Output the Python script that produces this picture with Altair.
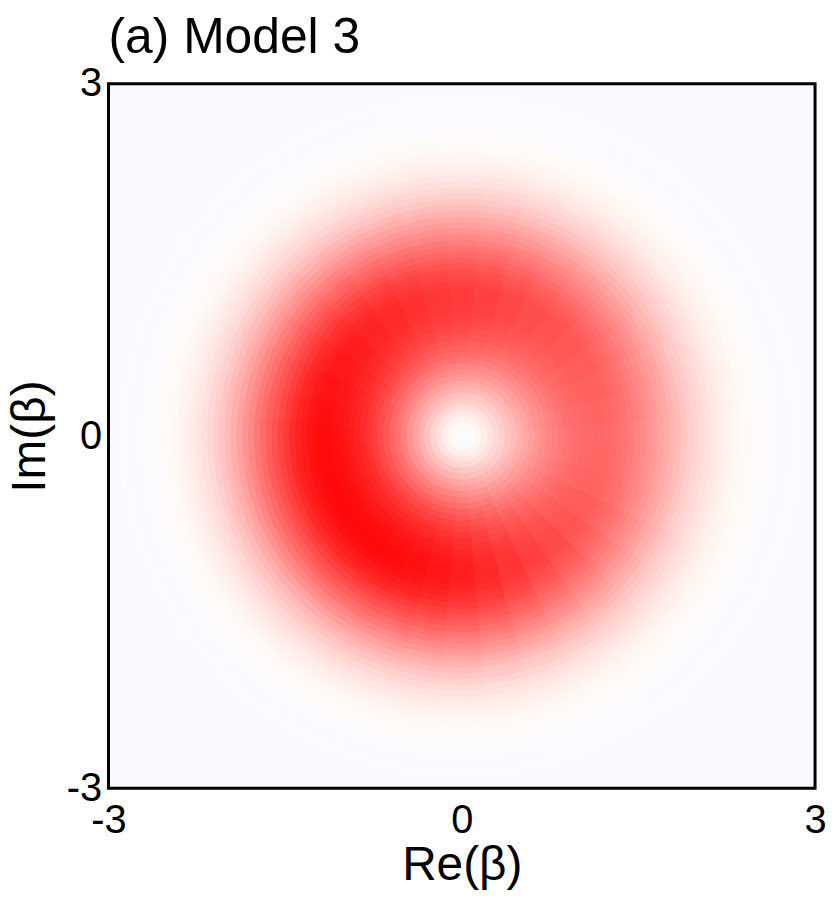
import math
import altair as alt
import pandas as pd

# Radial profile of the ring (read along the strongest direction), radius step 0.05
radius_centers = [round(0.05 * k, 2) for k in range(59)]
radial_profile = [
    0.00, 0.01, 0.04, 0.08, 0.13, 0.19, 0.26, 0.32, 0.39, 0.45,
    0.52, 0.58, 0.64, 0.70, 0.75, 0.80, 0.84, 0.88, 0.91, 0.94,
    0.96, 0.98, 0.99, 1.00, 1.00, 0.99, 0.97, 0.94, 0.91, 0.87,
    0.82, 0.77, 0.72, 0.67, 0.61, 0.56, 0.50, 0.45, 0.39, 0.34,
    0.29, 0.25, 0.21, 0.17, 0.14, 0.11, 0.09, 0.07, 0.055, 0.04,
    0.03, 0.02, 0.015, 0.01, 0.006, 0.004, 0.002, 0.001, 0.0,
]

# Angular strength of the ring (degrees clockwise from the +Im direction), 10° sectors
sector_angles = [10 * k for k in range(36)]
angular_strength = [
    0.80, 0.78, 0.755, 0.73, 0.71, 0.69, 0.67, 0.65, 0.635,
    0.62, 0.625, 0.64, 0.67, 0.70, 0.74, 0.78, 0.83, 0.875,
    0.915, 0.95, 0.975, 0.99, 1.00, 1.00, 1.00, 1.00, 0.995,
    0.99, 0.975, 0.96, 0.94, 0.92, 0.895, 0.87, 0.845, 0.82,
]

axis_values = [-3, 0, 3]
title_text = "(a) Model 3"

rows = []
for r, p in zip(radius_centers, radial_profile):
    for a, s in zip(sector_angles, angular_strength):
        rows.append({
            "r0": max(r - 0.025, 0.0), "r1": r + 0.025,
            "t0": a - 5, "t1": a + 5,
            "v": p * s,
        })
df = pd.DataFrame(rows)

W, H = 710, 708
FONT = "Liberation Sans"

cscale = alt.Scale(domain=[0, 0.03, 1], range=["#fafaff", "#fffaf6", "#ff0a0a"],
                   interpolate="rgb", clamp=True)

rings = alt.Chart(df).mark_arc(strokeWidth=1.2).encode(
    theta=alt.Theta("t0:Q", scale=alt.Scale(domain=[0, 360], range=[0, 2 * math.pi])),
    theta2="t1:Q",
    radius=alt.Radius("r1:Q", scale=alt.Scale(type="linear", domain=[0, 3], range=[0, H / 2], zero=True)),
    radius2="r0:Q",
    color=alt.Color("v:Q", scale=cscale, legend=None),
    stroke=alt.Stroke("v:Q", scale=cscale, legend=None),
)

common_axis = dict(
    values=axis_values, ticks=False, tickSize=0, grid=False, domain=False,
    labelFontSize=40, titleFontSize=48, labelFlush=False, labelFont=FONT, titleFont=FONT,
    titleFontWeight="normal", labelColor="black", titleColor="black",
    labelExpr="'' + datum.value",
)

frame_df = pd.DataFrame({"x": [-3, 3], "y": [-3, 3]})
axes = alt.Chart(frame_df).mark_point(opacity=0).encode(
    x=alt.X("x:Q", scale=alt.Scale(domain=[-3, 3], nice=False, zero=False),
            axis=alt.Axis(title="Re(β)", labelPadding=12, titlePadding=2, **common_axis)),
    y=alt.Y("y:Q", scale=alt.Scale(domain=[-3, 3], nice=False, zero=False),
            axis=alt.Axis(title="Im(β)", labelPadding=7, titlePadding=12, **common_axis)),
)

chart = alt.layer(rings, axes).properties(
    width=W, height=H,
    title=alt.TitleParams(title_text, anchor="start", fontSize=50, font=FONT,
                          fontWeight="normal", color="black", offset=1, frame="group"),
    autosize=alt.AutoSizeParams(type="none"),
    padding={"left": 101, "top": 74, "right": 12, "bottom": 100},
).configure_view(
    fill="#fafafe", stroke="black", strokeWidth=3
)

chart.save("out.html", embed_options={"renderer": "svg", "actions": False})
